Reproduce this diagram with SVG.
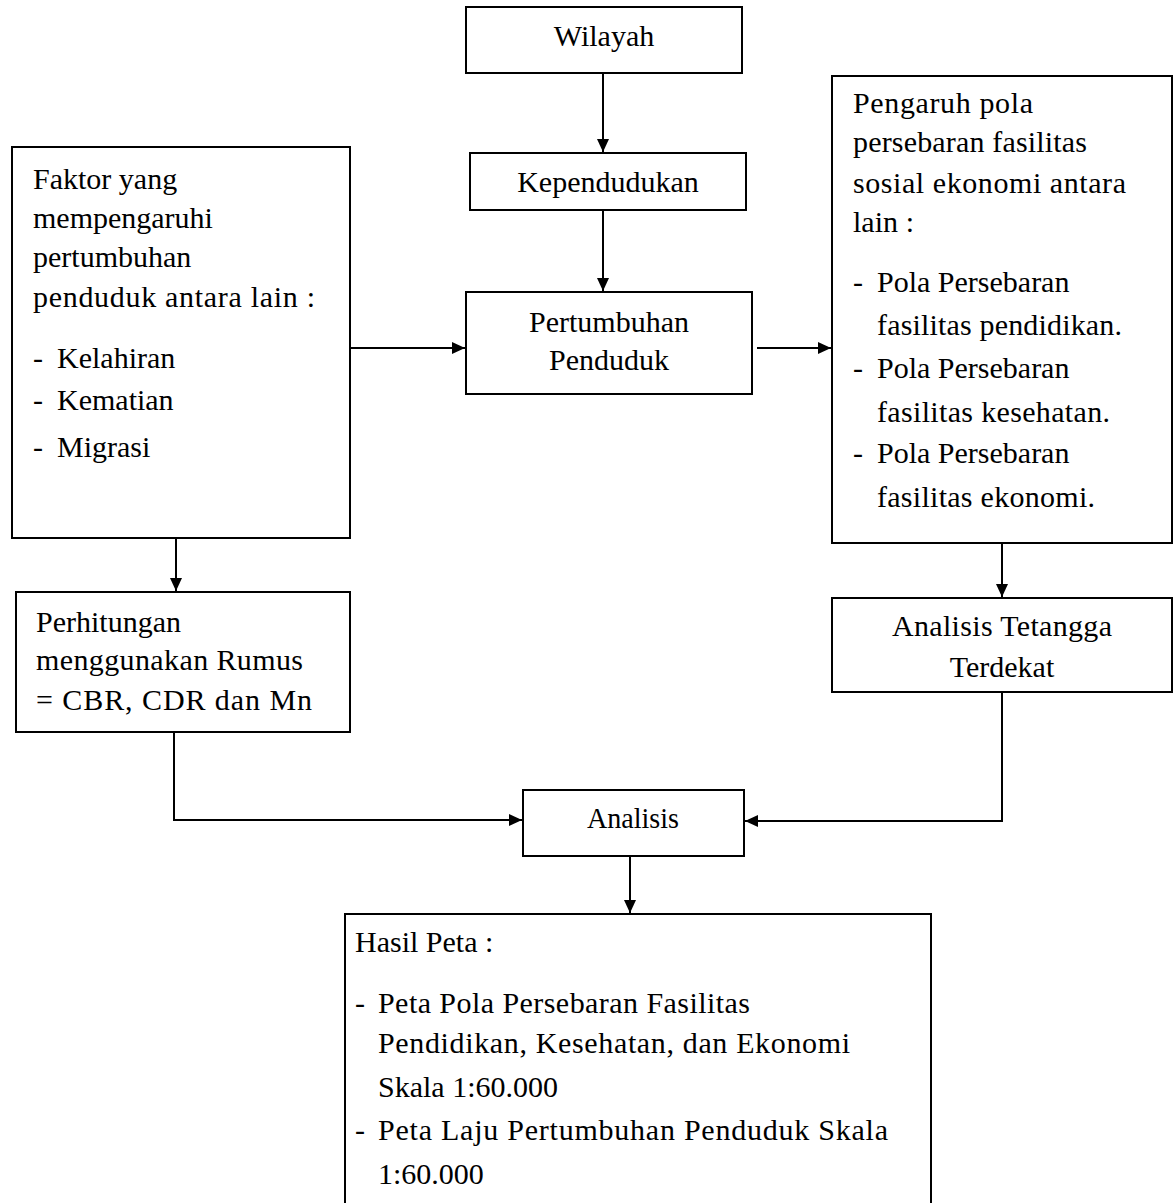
<svg xmlns="http://www.w3.org/2000/svg" width="1175" height="1203" viewBox="0 0 1175 1203">
<style>
.box{fill:#fff;stroke:#000;stroke-width:2}
.t{font-family:"Liberation Serif","Times New Roman",serif;font-size:30px;fill:#000}
.c{text-anchor:middle}
.ln{fill:none;stroke:#000;stroke-width:2}
</style>
<defs>
<marker id="ah" markerUnits="userSpaceOnUse" markerWidth="14" markerHeight="14" viewBox="0 0 14 14" refX="13" refY="7" orient="auto">
<path d="M0,1 L13,7 L0,13 Z" fill="#000"/>
</marker>
</defs>
<rect width="1175" height="1203" fill="#fff"/>
<g id="connectors">
<line class="ln" x1="603" y1="73" x2="603" y2="152" marker-end="url(#ah)"/>
<line class="ln" x1="603" y1="210" x2="603" y2="291" marker-end="url(#ah)"/>
<line class="ln" x1="350" y1="348" x2="465" y2="348" marker-end="url(#ah)"/>
<line class="ln" x1="757" y1="348" x2="831" y2="348" marker-end="url(#ah)"/>
<line class="ln" x1="176" y1="538" x2="176" y2="591" marker-end="url(#ah)"/>
<line class="ln" x1="1002" y1="543" x2="1002" y2="597" marker-end="url(#ah)"/>
<polyline class="ln" points="174,732 174,820 522,820" marker-end="url(#ah)"/>
<polyline class="ln" points="1002,692 1002,821 745,821" marker-end="url(#ah)"/>
<line class="ln" x1="630" y1="856" x2="630" y2="913" marker-end="url(#ah)"/>
</g>
<g id="wilayah">
<rect class="box" x="466" y="7" width="276" height="66"/>
<text class="t c" x="604" y="46">Wilayah</text>
</g>
<g id="kependudukan">
<rect class="box" x="470" y="153" width="276" height="57"/>
<text class="t c" x="608" y="192">Kependudukan</text>
</g>
<g id="pertumbuhan">
<rect class="box" x="466" y="292" width="286" height="102"/>
<text class="t c" x="609" y="332">Pertumbuhan</text>
<text class="t c" x="609" y="370">Penduduk</text>
</g>
<g id="faktor">
<rect class="box" x="12" y="147" width="338" height="391"/>
<text class="t" x="33" y="189">Faktor yang</text>
<text class="t" x="33" y="228">mempengaruhi</text>
<text class="t" x="33" y="267">pertumbuhan</text>
<text class="t" x="33" y="307" textLength="282" lengthAdjust="spacing">penduduk antara lain :</text>
<text class="t" x="33" y="368">-</text><text class="t" x="57" y="368">Kelahiran</text>
<text class="t" x="33" y="410">-</text><text class="t" x="57" y="410">Kematian</text>
<text class="t" x="33" y="457">-</text><text class="t" x="57" y="457">Migrasi</text>
</g>
<g id="pengaruh">
<rect class="box" x="832" y="76" width="340" height="467"/>
<text class="t" x="853" y="113" textLength="180" lengthAdjust="spacing">Pengaruh pola</text>
<text class="t" x="853" y="152" textLength="234" lengthAdjust="spacing">persebaran fasilitas</text>
<text class="t" x="853" y="193" textLength="273" lengthAdjust="spacing">sosial ekonomi antara</text>
<text class="t" x="853" y="232" textLength="61" lengthAdjust="spacing">lain :</text>
<text class="t" x="853" y="292">-</text><text class="t" x="877" y="292">Pola Persebaran</text>
<text class="t" x="877" y="335" textLength="245" lengthAdjust="spacing">fasilitas pendidikan.</text>
<text class="t" x="853" y="378">-</text><text class="t" x="877" y="378">Pola Persebaran</text>
<text class="t" x="877" y="422" textLength="233" lengthAdjust="spacing">fasilitas kesehatan.</text>
<text class="t" x="853" y="463">-</text><text class="t" x="877" y="463">Pola Persebaran</text>
<text class="t" x="877" y="507" textLength="218" lengthAdjust="spacing">fasilitas ekonomi.</text>
</g>
<g id="perhitungan">
<rect class="box" x="16" y="592" width="334" height="140"/>
<text class="t" x="36" y="632">Perhitungan</text>
<text class="t" x="36" y="670" textLength="267" lengthAdjust="spacing">menggunakan Rumus</text>
<text class="t" x="36" y="710" textLength="276" lengthAdjust="spacing">= CBR, CDR dan Mn</text>
</g>
<g id="tetangga">
<rect class="box" x="832" y="598" width="340" height="94"/>
<text class="t" x="892" y="636" textLength="220" lengthAdjust="spacing">Analisis  Tetangga</text>
<text class="t c" x="1002" y="677">Terdekat</text>
</g>
<g id="analisis">
<rect class="box" x="523" y="790" width="221" height="66"/>
<text class="t" x="587" y="828" textLength="92" lengthAdjust="spacingAndGlyphs">Analisis</text>
</g>
<g id="hasil">
<rect class="box" x="345" y="914" width="586" height="300"/>
<text class="t" x="355" y="952">Hasil Peta :</text>
<text class="t" x="355" y="1013">-</text><text class="t" x="378" y="1013" textLength="372" lengthAdjust="spacing">Peta Pola Persebaran Fasilitas</text>
<text class="t" x="378" y="1053" textLength="472" lengthAdjust="spacing">Pendidikan,  Kesehatan,  dan Ekonomi</text>
<text class="t" x="378" y="1097">Skala 1:60.000</text>
<text class="t" x="355" y="1140">-</text><text class="t" x="378" y="1140" textLength="510" lengthAdjust="spacing">Peta Laju Pertumbuhan Penduduk Skala</text>
<text class="t" x="378" y="1184">1:60.000</text>
</g>
</svg>
